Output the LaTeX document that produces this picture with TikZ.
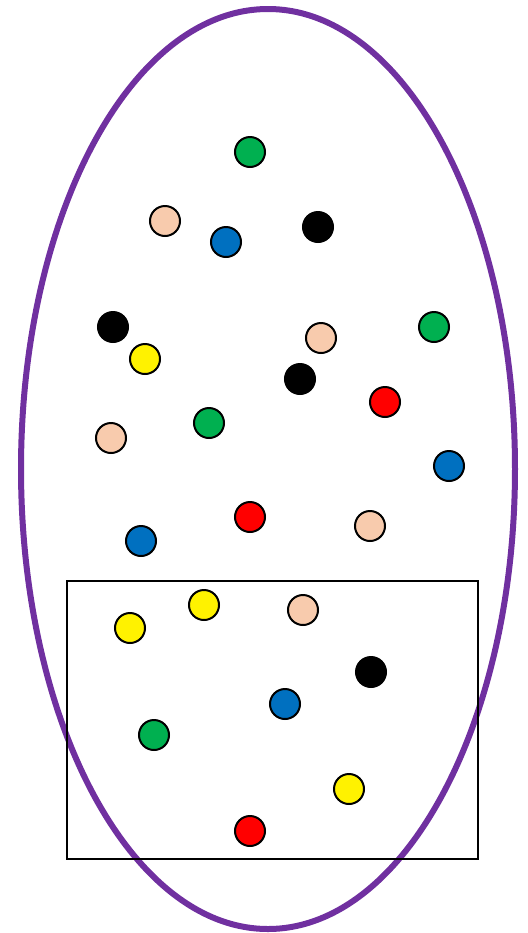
\documentclass[tikz,border=0pt]{standalone}
\begin{document}
\begin{tikzpicture}[x=0.75pt,y=-0.75pt,
  dot/.style={circle,draw=black,line width=1.5pt,minimum size=22.5pt,inner sep=0pt},
  gdot/.style={dot,fill=cgreen},
  pdot/.style={dot,fill=cpeach},
  bdot/.style={dot,fill=cblue},
  kdot/.style={dot,fill=black},
  rdot/.style={dot,fill=red},
  ydot/.style={dot,fill=yellow}]
\definecolor{cgreen}{HTML}{00B050}
\definecolor{cpeach}{HTML}{F8CBAD}
\definecolor{cblue}{HTML}{0070C0}
\definecolor{cpurple}{HTML}{7030A0}
\useasboundingbox (0,0) rectangle (528,933);
\draw[cpurple,line width=4.5pt] (268,469) ellipse [x radius=247, y radius=460];
\draw[black,line width=1.5pt] (67,581) rectangle (478,859);
\node[gdot] (g1) at (250,152) {};
\node[pdot] (p1) at (165,221) {};
\node[bdot] (b1) at (226,242) {};
\node[kdot] (k1) at (318,227) {};
\node[kdot] (k2) at (113,327) {};
\node[ydot] (y1) at (145,359) {};
\node[pdot] (p2) at (321,338) {};
\node[gdot] (g2) at (434,327) {};
\node[kdot] (k3) at (300,379) {};
\node[rdot] (r1) at (385,402) {};
\node[pdot] (p3) at (111,438) {};
\node[gdot] (g3) at (209,423) {};
\node[bdot] (b2) at (449,466) {};
\node[rdot] (r2) at (250,517) {};
\node[pdot] (p4) at (370,526) {};
\node[bdot] (b3) at (141,541) {};
\node[ydot] (y2) at (204,605) {};
\node[ydot] (y3) at (130,628) {};
\node[pdot] (p5) at (303,610) {};
\node[kdot] (k4) at (371,672) {};
\node[bdot] (b4) at (285,704) {};
\node[gdot] (g4) at (154,735) {};
\node[ydot] (y4) at (349,789) {};
\node[rdot] (r3) at (250,831) {};
\end{tikzpicture}
\end{document}
